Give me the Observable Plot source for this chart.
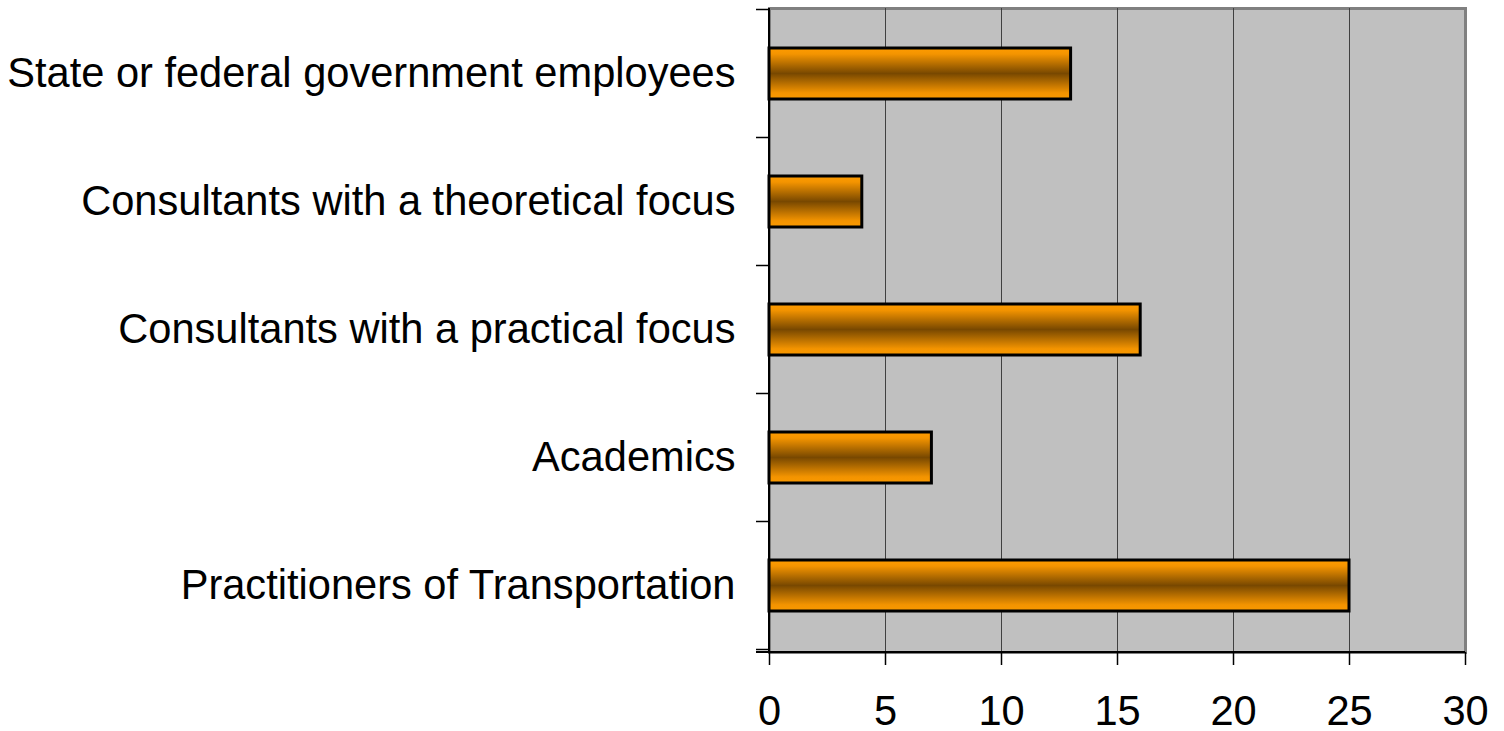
<!DOCTYPE html>
<html>
<head>
<meta charset="utf-8">
<script src="https://cdn.jsdelivr.net/npm/d3@7"></script>
<script src="https://cdn.jsdelivr.net/npm/@observablehq/plot@0.6"></script>
<style>
  html, body { margin: 0; padding: 0; background: white; }
</style>
</head>
<body>
<div id="chart"></div>
<script>
const categories = [
  "State or federal government employees",
  "Consultants with a theoretical focus",
  "Consultants with a practical focus",
  "Academics",
  "Practitioners of Transportation"
];
const counts = [13, 4, 16, 7, 25];
const xTicks = [0, 5, 10, 15, 20, 25, 30];

const data = categories.map((c, i) => ({cat: c, value: counts[i]}));

function categoryTicks(index, scales, values, dims) {
  const y = scales.y, x = scales.x;
  const bw = y.bandwidth();
  const step = y.step ? y.step() : (y(categories[1]) - y(categories[0]));
  const gap = (step - bw) / 2;
  const bounds = categories.map(c => y(c) - gap);
  bounds.push(y(categories[categories.length - 1]) + bw + gap);
  const x0 = x(0);
  const g = d3.create("svg:g");
  g.selectAll("line.t").data(bounds).join("line")
    .attr("x1", x0 - 13).attr("x2", x0)
    .attr("y1", d => d).attr("y2", d => d)
    .attr("stroke", "black").attr("stroke-width", 1.5);
  g.append("line")
    .attr("x1", x0).attr("x2", x0)
    .attr("y1", dims.marginTop).attr("y2", dims.height - dims.marginBottom)
    .attr("stroke", "black").attr("stroke-width", 2);
  g.append("line")
    .attr("x1", x0 - 13).attr("x2", dims.width - dims.marginRight)
    .attr("y1", dims.height - dims.marginBottom).attr("y2", dims.height - dims.marginBottom)
    .attr("stroke", "black").attr("stroke-width", 2);
  return g.node();
}

const chart = Plot.plot({
  width: 1504,
  height: 731,
  marginLeft: 769,
  marginRight: 39,
  marginTop: 8,
  marginBottom: 79,
  style: {fontFamily: "'Liberation Sans', Arial, sans-serif", fontSize: "41.6px", background: "white", color: "black", overflow: "visible"},
  x: {domain: [0, 30], ticks: xTicks, label: null},
  y: {domain: categories, paddingInner: 0.6, paddingOuter: 0.3, label: null},
  marks: [
    Plot.frame({fill: "#c0c0c0", stroke: "#808080", strokeWidth: 3}),
    Plot.ruleX(xTicks.slice(1, -1), {stroke: "#404040", strokeWidth: 1}),
    Plot.barX(data, {x: "value", y: "cat", fill: "url(#barGrad)", stroke: "black", strokeWidth: 3}),
    categoryTicks,
    Plot.axisX({ticks: xTicks, tickSize: 13, tickPadding: 30, fontSize: 41.6, label: null, stroke: "black", strokeWidth: 1.5}),
    Plot.axisY({tickSize: 0, tickPadding: 34, fontSize: 41.6, label: null})
  ]
});

d3.select(chart).insert("defs", ":first-child").html(`
  <linearGradient id="barGrad" x1="0" y1="0" x2="0" y2="1">
    <stop offset="0" stop-color="#ff9c00"/>
    <stop offset="0.12" stop-color="#f49400"/>
    <stop offset="0.5" stop-color="#784800"/>
    <stop offset="0.88" stop-color="#f49400"/>
    <stop offset="1" stop-color="#f89800"/>
  </linearGradient>`);

document.getElementById("chart").appendChild(chart);
</script>
</body>
</html>
